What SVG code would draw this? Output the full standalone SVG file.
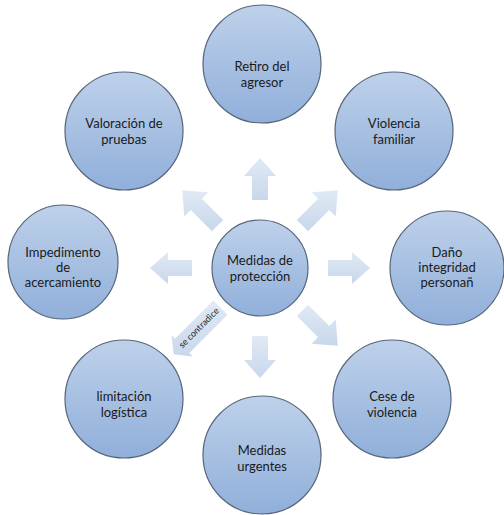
<svg xmlns="http://www.w3.org/2000/svg" width="504" height="515" viewBox="0 0 504 515">
<defs>
<linearGradient id="cg" x1="0" y1="0" x2="0" y2="1">
<stop offset="0" stop-color="#bed1ea"/>
<stop offset="1" stop-color="#90afda"/>
</linearGradient>
<linearGradient id="ag" x1="0" y1="0" x2="0" y2="1">
<stop offset="0" stop-color="#e1eaf5"/>
<stop offset="1" stop-color="#c8d7ec"/>
</linearGradient>
</defs>
<style>
.n{fill:url(#cg);stroke:#56657a;stroke-width:1.2}
.a{fill:url(#ag);stroke:none}
.t{font-family:Lato,"Liberation Sans",sans-serif;font-size:13px;fill:#1a1a1a;text-anchor:middle}
.s{font-family:Lato,"Liberation Sans",sans-serif;font-size:9px;fill:#1a1a1a;text-anchor:middle}
</style>
<rect width="504" height="515" fill="#ffffff"/>
<g id="connectors">
<polygon class="a" points="252,200 252,176 244,176 260,158 276,176 268,176 268,200"/>
<polygon class="a" points="252,336 252,360 244,360 260,378 276,360 268,360 268,336"/>
<polygon class="a" points="328,260 352,260 352,252 370,268 352,284 352,276 328,276"/>
<polygon class="a" points="192,260 168,260 168,252 150,268 168,284 168,276 192,276"/>
<polygon class="a" points="211.9,231.2 190.7,210 184.3,216.4 182.2,190.2 208.4,192.3 202,198.7 223.2,219.9"/>
<polygon class="a" points="308.1,231.2 329.3,210 335.7,216.4 337.8,190.2 311.6,192.3 318,198.7 296.8,219.9"/>
<polygon class="a" points="308.1,304.8 329.3,326 335.7,319.6 337.8,345.8 311.6,343.7 318,337.3 296.8,316.1"/>
<polygon class="a" points="213.3,300.5 175.2,338.7 171.6,335.2 173.7,354.3 192.8,356.4 189.3,352.9 227.5,314.7"/>
<text class="s" transform="translate(201,330) rotate(-45)">se contradice</text>
</g>
<g id="retiro"><circle class="n" cx="262" cy="64" r="59"/><text class="t" x="262" y="71">Retiro del</text><text class="t" x="262" y="87">agresor</text></g>
<g id="valoracion"><circle class="n" cx="124" cy="131" r="59"/><text class="t" x="124" y="128">Valoración de</text><text class="t" x="124" y="144">pruebas</text></g>
<g id="violencia"><circle class="n" cx="394" cy="131" r="59"/><text class="t" x="394" y="128">Violencia</text><text class="t" x="394" y="144">familiar</text></g>
<g id="impedimento"><ellipse class="n" cx="63" cy="262" rx="55" ry="57"/><text class="t" x="63" y="257">Impedimento</text><text class="t" x="63" y="272">de</text><text class="t" x="63" y="287">acercamiento</text></g>
<g id="centro"><circle class="n" cx="260" cy="268" r="48"/><text class="t" x="260" y="265">Medidas de</text><text class="t" x="260" y="281">protección</text></g>
<g id="dano"><circle class="n" cx="447" cy="268" r="57"/><text class="t" x="447" y="257">Daño</text><text class="t" x="447" y="272">integridad</text><text class="t" x="447" y="287">personañ</text></g>
<g id="limitacion"><circle class="n" cx="124" cy="399" r="59"/><text class="t" x="124" y="401">limitación</text><text class="t" x="124" y="417">logística</text></g>
<g id="cese"><circle class="n" cx="392" cy="399" r="59"/><text class="t" x="392" y="401">Cese de</text><text class="t" x="392" y="417">violencia</text></g>
<g id="urgentes"><circle class="n" cx="262" cy="455" r="59"/><text class="t" x="262" y="455">Medidas</text><text class="t" x="262" y="471">urgentes</text></g>
</svg>
